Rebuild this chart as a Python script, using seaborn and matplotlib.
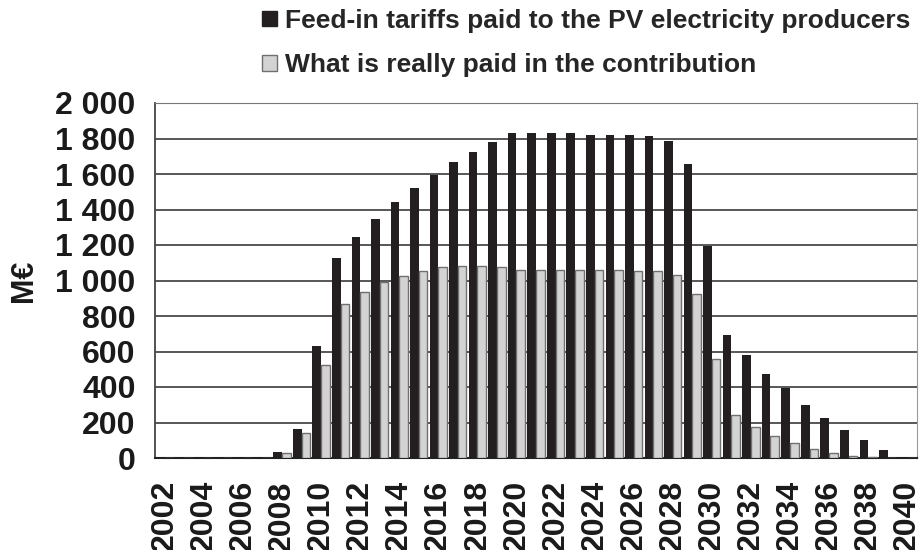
import pandas as pd
import numpy as np
import seaborn as sns
import matplotlib.pyplot as plt
from matplotlib.patches import Patch
from matplotlib.ticker import FuncFormatter

years = [str(y) for y in range(2002, 2041)]
feed_in = [3, 3, 3, 3, 3, 3, 32, 163, 633, 1127, 1243, 1348, 1440, 1521, 1596,
           1668, 1726, 1780, 1831, 1831, 1831, 1831, 1822, 1822, 1822, 1816,
           1788, 1658, 1196, 695, 582, 475, 394, 300, 225, 156, 100, 43, 3]
contribution = [2, 2, 2, 2, 2, 2, 26, 141, 524, 868, 935, 992, 1027, 1055, 1076,
                1084, 1084, 1076, 1061, 1061, 1061, 1061, 1061, 1061, 1055, 1055,
                1033, 924, 558, 244, 175, 122, 85, 51, 28, 9, 4, 1, 0]
series = ["Feed-in tariffs paid to the PV electricity producers",
          "What is really paid in the contribution"]

df = pd.DataFrame({
    "year": years * 2,
    "value": feed_in + contribution,
    "series": [series[0]] * len(years) + [series[1]] * len(years),
})

sns.set_style("white")
plt.rcParams['font.family'] = ['Liberation Sans', 'DejaVu Sans']
plt.rcParams['font.weight'] = 'bold'

fig = plt.figure(figsize=(9.22, 5.5), dpi=100)
ax = fig.add_axes([155 / 922, 1 - 458 / 550, (917 - 155) / 922, (458 - 103) / 550])

colors = {series[0]: "#231f20", series[1]: "#d3d3d3"}
sns.barplot(data=df, x="year", y="value", hue="series", palette=colors,
            width=0.88, ax=ax, legend=False, saturation=1)

# black bars without edge, grey bars with dark outline
n = len(years)
for i, p in enumerate(ax.patches):
    if i < n:
        p.set_linewidth(0)
    else:
        p.set_edgecolor("#707070")
        p.set_linewidth(1)
    p.set_zorder(3)

ax.set_xlim(-0.5, n - 0.5)
ax.set_ylim(0, 2000)
ax.set_yticks(np.arange(0, 2001, 200))
ax.yaxis.set_major_formatter(FuncFormatter(lambda v, _: f"{int(v):,}".replace(",", " ")))
ax.yaxis.grid(True, color="#4a4a4a", linewidth=1.3, zorder=0)
ax.set_axisbelow(True)

ax.set_xticks(np.arange(0, n, 2))
ax.set_xticklabels(years[::2], rotation=90)
ax.set_xticks(np.arange(-0.5, n, 1), minor=True)
ax.tick_params(axis="x", which="major", length=0, pad=16, labelsize=23)
ax.tick_params(axis="x", which="minor", length=9, width=1.2, color="#222222")
ax.tick_params(axis="y", length=9, width=1.2, color="#555555", labelsize=23, pad=5)

for lab in ax.get_xticklabels() + ax.get_yticklabels():
    lab.set_fontweight("bold")
    lab.set_color("#1a1a1a")

ax.set_xlabel("")
ax.set_ylabel("M€", fontsize=22, fontweight="bold", labelpad=12, color="#1a1a1a")

ax.spines["left"].set_color("#444444")
ax.spines["left"].set_linewidth(1.3)
ax.spines["bottom"].set_color("#222222")
ax.spines["bottom"].set_linewidth(1.5)
ax.spines["top"].set_color("#777777")
ax.spines["right"].set_color("#999999")

handles = [Patch(facecolor=colors[series[0]], edgecolor="#231f20"),
           Patch(facecolor=colors[series[1]], edgecolor="#707070")]
fig.legend(handles, series, loc="upper left", bbox_to_anchor=(249 / 922, 1.008),
           frameon=False, prop={"family": ["Liberation Sans Narrow", "Liberation Sans"],
                                "weight": "bold", "size": 19},
           handlelength=0.55, handleheight=0.55, handletextpad=0.3,
           labelspacing=0.78, borderaxespad=0.1)

plt.savefig("out.png", dpi=100)
plt.close()
